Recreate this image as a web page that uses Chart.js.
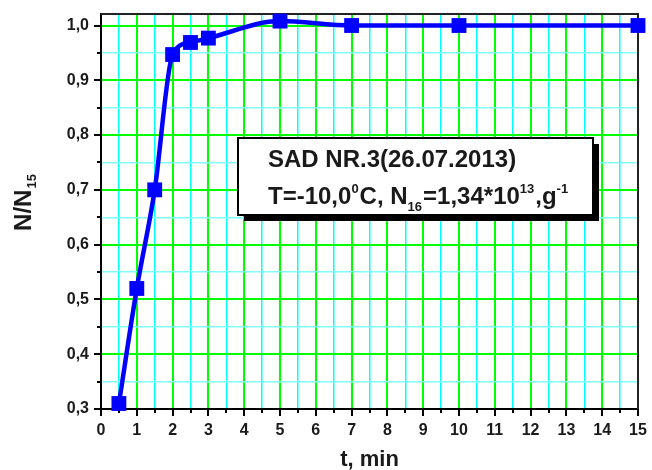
<!DOCTYPE html>
<html>
<head>
<meta charset="utf-8">
<script src="https://cdn.jsdelivr.net/npm/chart.js@4.4.0/dist/chart.umd.min.js"></script>
<style>
  html, body { margin: 0; padding: 0; background: #fff; }
  #wrap { width: 652px; height: 470px; }
</style>
</head>
<body>
<div id="wrap"><canvas id="chart"></canvas></div>
<script>
// data
const timeMin = [0.5, 1, 1.5, 2, 2.5, 3, 5, 7, 10, 15];
const ratio = [0.31, 0.52, 0.70, 0.947, 0.969, 0.977, 1.008, 1.0, 1.0, 1.0];

const xTicks = [0, 0.5, 1, 1.5, 2, 2.5, 3, 3.5, 4, 4.5, 5, 5.5, 6, 6.5, 7, 7.5,
                8, 8.5, 9, 9.5, 10, 10.5, 11, 11.5, 12, 12.5, 13, 13.5, 14, 14.5, 15];
const yTicks = [0.3, 0.35, 0.4, 0.45, 0.5, 0.55, 0.6, 0.65, 0.7, 0.75, 0.8, 0.85,
                0.9, 0.95, 1.0];

const boxTitle = 'SAD NR.3(26.07.2013)';

const FONT = "'Liberation Sans', Arial, sans-serif";
const GREEN = '#00ff00';
const CYAN = '#00ffff';
const CYAN_LIGHT = '#80ffff';

const isMajorX = v => Math.abs(v - Math.round(v)) < 1e-6;
const isMajorY = v => Math.abs(v * 10 - Math.round(v * 10)) < 1e-6;

// scales should not push the plot area around
const noPadding = s => {
  s.paddingTop = 0;
  s.paddingBottom = 0;
  s.paddingLeft = 0;
  s.paddingRight = 0;
};

// frame, tick marks, axis titles and the text box
const decorations = {
  id: 'decorations',
  beforeDatasetsDraw(chart) {
    const { ctx, chartArea: a, scales } = chart;
    ctx.save();
    ctx.strokeStyle = '#222';
    ctx.lineWidth = 2;
    ctx.beginPath();
    ctx.moveTo(a.left, a.top);
    ctx.lineTo(a.right, a.top);
    ctx.lineTo(a.right, a.bottom);
    ctx.stroke();

    ctx.strokeStyle = '#000';
    ctx.lineWidth = 2;
    ctx.beginPath();
    xTicks.forEach(v => {
      const px = Math.round(scales.x.getPixelForValue(v));
      const len = isMajorX(v) ? 7 : 4;
      ctx.moveTo(px, a.bottom);
      ctx.lineTo(px, a.bottom + len);
    });
    yTicks.forEach(v => {
      const py = Math.round(scales.y.getPixelForValue(v));
      const len = isMajorY(v) ? 7 : 4;
      ctx.moveTo(a.left, py);
      ctx.lineTo(a.left - len, py);
    });
    ctx.stroke();
    ctx.restore();
  },
  afterDraw(chart) {
    const { ctx, chartArea: a } = chart;
    ctx.save();
    ctx.fillStyle = '#1a1a1a';

    // x title
    ctx.font = `bold 22px ${FONT}`;
    ctx.textAlign = 'center';
    ctx.textBaseline = 'alphabetic';
    ctx.fillText('t, min', (a.left + a.right) / 2, 466);

    // y title N/N15
    ctx.translate(31, 203);
    ctx.rotate(-Math.PI / 2);
    ctx.font = `bold 24px ${FONT}`;
    const main = 'N/N';
    const wMain = ctx.measureText(main).width;
    ctx.font = `bold 13px ${FONT}`;
    const wSub = ctx.measureText('15').width;
    const start = -(wMain + wSub) / 2;
    ctx.textAlign = 'left';
    ctx.font = `bold 24px ${FONT}`;
    ctx.fillText(main, start, 0);
    ctx.font = `bold 13px ${FONT}`;
    ctx.fillText('15', start + wMain + 1, 5);
    ctx.setTransform(1, 0, 0, 1, 0, 0);

    // text box with shadow
    const bx = 238, by = 138, bw = 355, bh = 77;
    ctx.fillStyle = '#000';
    ctx.fillRect(bx + 6, by + 6, bw, bh);
    ctx.fillStyle = '#fff';
    ctx.fillRect(bx, by, bw, bh);
    ctx.strokeStyle = '#000';
    ctx.lineWidth = 2;
    ctx.strokeRect(bx, by, bw, bh);

    ctx.fillStyle = '#1a1a1a';
    ctx.textAlign = 'left';
    ctx.font = `bold 24px ${FONT}`;
    ctx.fillText(boxTitle, 268, 167);

    // second line with super/subscripts
    const parts = [
      ['T=-10,0', 24, 0],
      ['0', 13, -11],
      ['C, N', 24, 0],
      ['16', 13, 7],
      ['=1,34*10', 24, 0],
      ['13', 13, -11],
      [',g', 24, 0],
      ['-1', 13, -11]
    ];
    let x = 268;
    const base = 204;
    parts.forEach(([txt, size, dy]) => {
      ctx.font = `bold ${size}px ${FONT}`;
      ctx.fillText(txt, x, base + dy);
      x += ctx.measureText(txt).width + (size < 20 ? 1 : 0);
    });
    ctx.restore();
  }
};

const chart = new Chart(document.getElementById('chart'), {
  type: 'line',
  data: {
    datasets: [{
      data: timeMin.map((t, i) => ({ x: t, y: ratio[i] })),
      borderColor: '#0000ff',
      backgroundColor: '#0000ff',
      borderWidth: 4.5,
      pointStyle: 'rect',
      pointRadius: 10.5,
      pointBorderWidth: 0,
      pointBackgroundColor: '#0000ff',
      cubicInterpolationMode: 'monotone',
      clip: false
    }]
  },
  options: {
    responsive: true,
    maintainAspectRatio: false,
    animation: false,
    layout: { padding: { left: 0, right: 14, top: 14, bottom: 0 } },
    plugins: {
      legend: { display: false },
      tooltip: { enabled: false },
      title: { display: false }
    },
    scales: {
      x: {
        type: 'linear',
        min: 0,
        max: 15,
        afterBuildTicks: s => { s.ticks = xTicks.map(v => ({ value: v })); },
        afterFit: s => { s.height = 61; noPadding(s); },
        grid: {
          drawTicks: false,
          color: c => isMajorX(c.tick.value) ? GREEN : CYAN,
          lineWidth: c => isMajorX(c.tick.value) ? 2 : 1.5
        },
        border: { display: true, color: '#000', width: 2 },
        ticks: {
          autoSkip: false,
          maxRotation: 0,
          padding: 12,
          color: '#1a1a1a',
          font: { family: FONT, weight: 'bold', size: 16 },
          callback: v => isMajorX(v) ? String(Math.round(v)) : ''
        }
      },
      y: {
        type: 'linear',
        min: 0.3,
        max: 1.021,
        afterBuildTicks: s => { s.ticks = yTicks.map(v => ({ value: v })); },
        afterFit: s => { s.width = 101; noPadding(s); },
        grid: {
          drawTicks: false,
          color: c => isMajorY(c.tick.value) ? GREEN : CYAN_LIGHT,
          lineWidth: c => isMajorY(c.tick.value) ? 2 : 1.5
        },
        border: { display: true, color: '#000', width: 2 },
        ticks: {
          autoSkip: false,
          padding: 12,
          color: '#1a1a1a',
          font: { family: FONT, weight: 'bold', size: 16 },
          callback: v => isMajorY(v) ? v.toFixed(1).replace('.', ',') : ''
        }
      }
    }
  },
  plugins: [decorations]
});
</script>
</body>
</html>
